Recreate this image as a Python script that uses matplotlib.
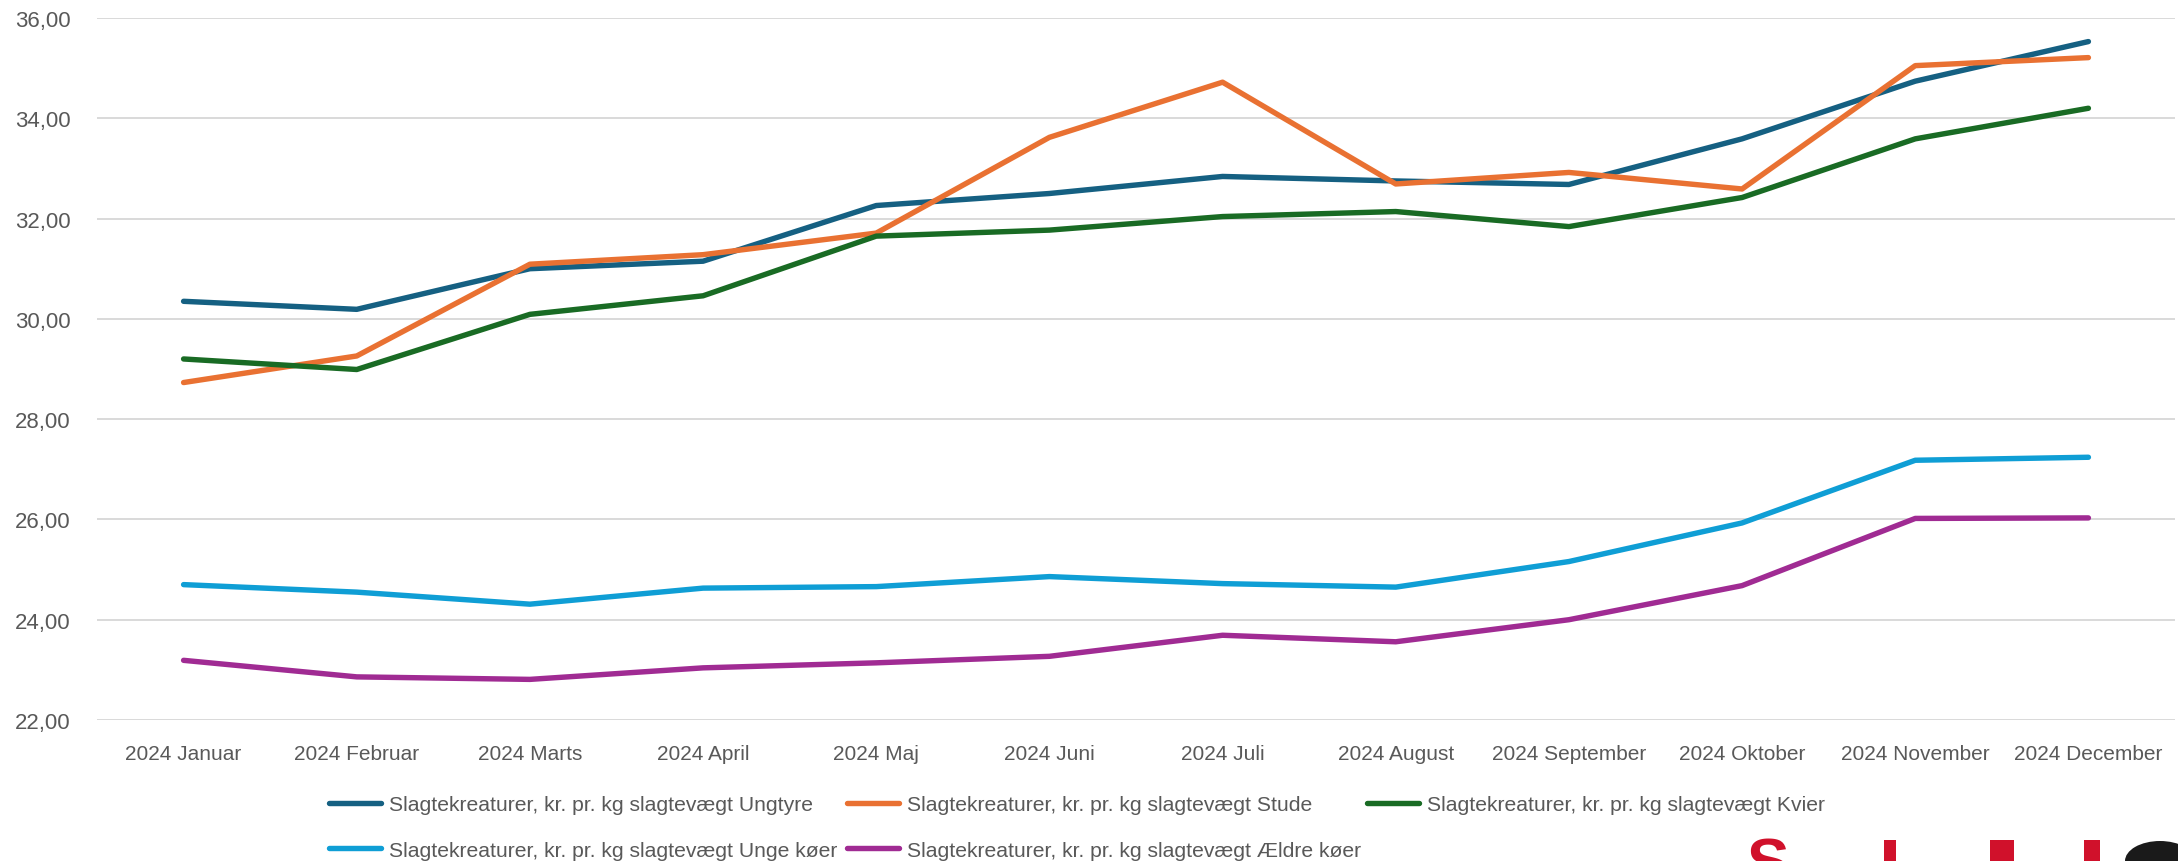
import matplotlib
matplotlib.use("Agg")
import matplotlib.pyplot as plt
import numpy as np
from matplotlib.patches import Rectangle, Ellipse

# ---------------- data ----------------
months = ["2024 Januar", "2024 Februar", "2024 Marts", "2024 April", "2024 Maj",
          "2024 Juni", "2024 Juli", "2024 August", "2024 September",
          "2024 Oktober", "2024 November", "2024 December"]

label_prefix = "Slagtekreaturer, kr. pr. kg slagtevægt "
series_names = ["Ungtyre", "Stude", "Kvier", "Unge køer", "Ældre køer"]

ungtyre = [30.35, 30.19, 31.00, 31.15, 32.26, 32.50, 32.84, 32.75, 32.68, 33.59, 34.74, 35.53]
stude = [28.73, 29.26, 31.09, 31.28, 31.71, 33.62, 34.72, 32.69, 32.92, 32.59, 35.05, 35.21]
kvier = [29.20, 28.99, 30.09, 30.46, 31.65, 31.77, 32.04, 32.14, 31.84, 32.42, 33.59, 34.20]
unge_koeer = [24.70, 24.55, 24.31, 24.63, 24.66, 24.86, 24.72, 24.65, 25.16, 25.93, 27.18, 27.24]
aeldre_koeer = [23.19, 22.86, 22.81, 23.04, 23.14, 23.27, 23.69, 23.56, 24.00, 24.68, 26.02, 26.03]

colors = ["#156082", "#E97132", "#196B24", "#0F9ED5", "#A02B93"]
y_ticks = [22, 24, 26, 28, 30, 32, 34, 36]

# ---------------- figure ----------------
plt.rcParams["font.family"] = ["Liberation Sans", "DejaVu Sans"]
W, H = 2178, 862
fig = plt.figure(figsize=(W / 100, H / 100), dpi=100)
fig.patch.set_facecolor("white")

left, right, bottom, top = 97, 2175, 721, 19
ax = fig.add_axes([left / W, 1 - bottom / H, (right - left) / W, (bottom - top) / H])

x = np.arange(len(months))
all_series = [ungtyre, stude, kvier, unge_koeer, aeldre_koeer]
handles = []
for name, vals, col in zip(series_names, all_series, colors):
    ln, = ax.plot(x, vals, color=col, lw=3.9, solid_capstyle="round",
                  solid_joinstyle="round", label=label_prefix + name, zorder=3)
    handles.append(ln)

ax.set_xlim(-0.5, len(months) - 0.5)
ax.set_ylim(min(y_ticks), max(y_ticks))
ax.set_yticks(y_ticks)
ax.set_yticklabels([f"{v:.2f}".replace(".", ",") for v in y_ticks])
ax.set_xticks(x)
ax.set_xticklabels(months)

text_col = "#595959"
ax.tick_params(axis="both", length=0, colors=text_col)
ax.tick_params(axis="x", labelsize=15, pad=17)
ax.tick_params(axis="y", labelsize=16, pad=19)
ax.grid(axis="y", color="#D9D9D9", lw=1.4)
ax.grid(axis="x", visible=False)
ax.set_axisbelow(True)
for s in ax.spines.values():
    s.set_visible(False)

# ---------------- legend (three columns) ----------------
col_x = [329, 847, 1367]
col_items = [[0, 3], [1, 4], [2]]
leg_top = 796
for cx, items in zip(col_x, col_items):
    fig.legend([handles[i] for i in items],
               [label_prefix + series_names[i] for i in items],
               loc="upper left", bbox_to_anchor=(cx / W, 1 - leg_top / H),
               frameon=False, fontsize=15.2, handlelength=2.45,
               handletextpad=0.38, labelspacing=1.27, borderpad=0,
               borderaxespad=0, labelcolor=text_col)

# ---------------- partially visible logo (bottom right) ----------------
red = "#D0112B"
fig.text(1746 / W, 1 - 838 / H, "S", color=red, fontsize=46, fontweight="bold",
         ha="left", va="top")
for (x0, w0) in [(1884, 12), (1990, 24), (2084, 16)]:
    fig.add_artist(Rectangle((x0 / W, 0), w0 / W, (862 - 841) / H,
                             transform=fig.transFigure, color=red, lw=0))
fig.add_artist(Ellipse((2160 / W, 0), 70 / W, 40 / H, transform=fig.transFigure,
                       color="#1a1a1a", lw=0))

fig.savefig("out.png", dpi=100, facecolor="white")
